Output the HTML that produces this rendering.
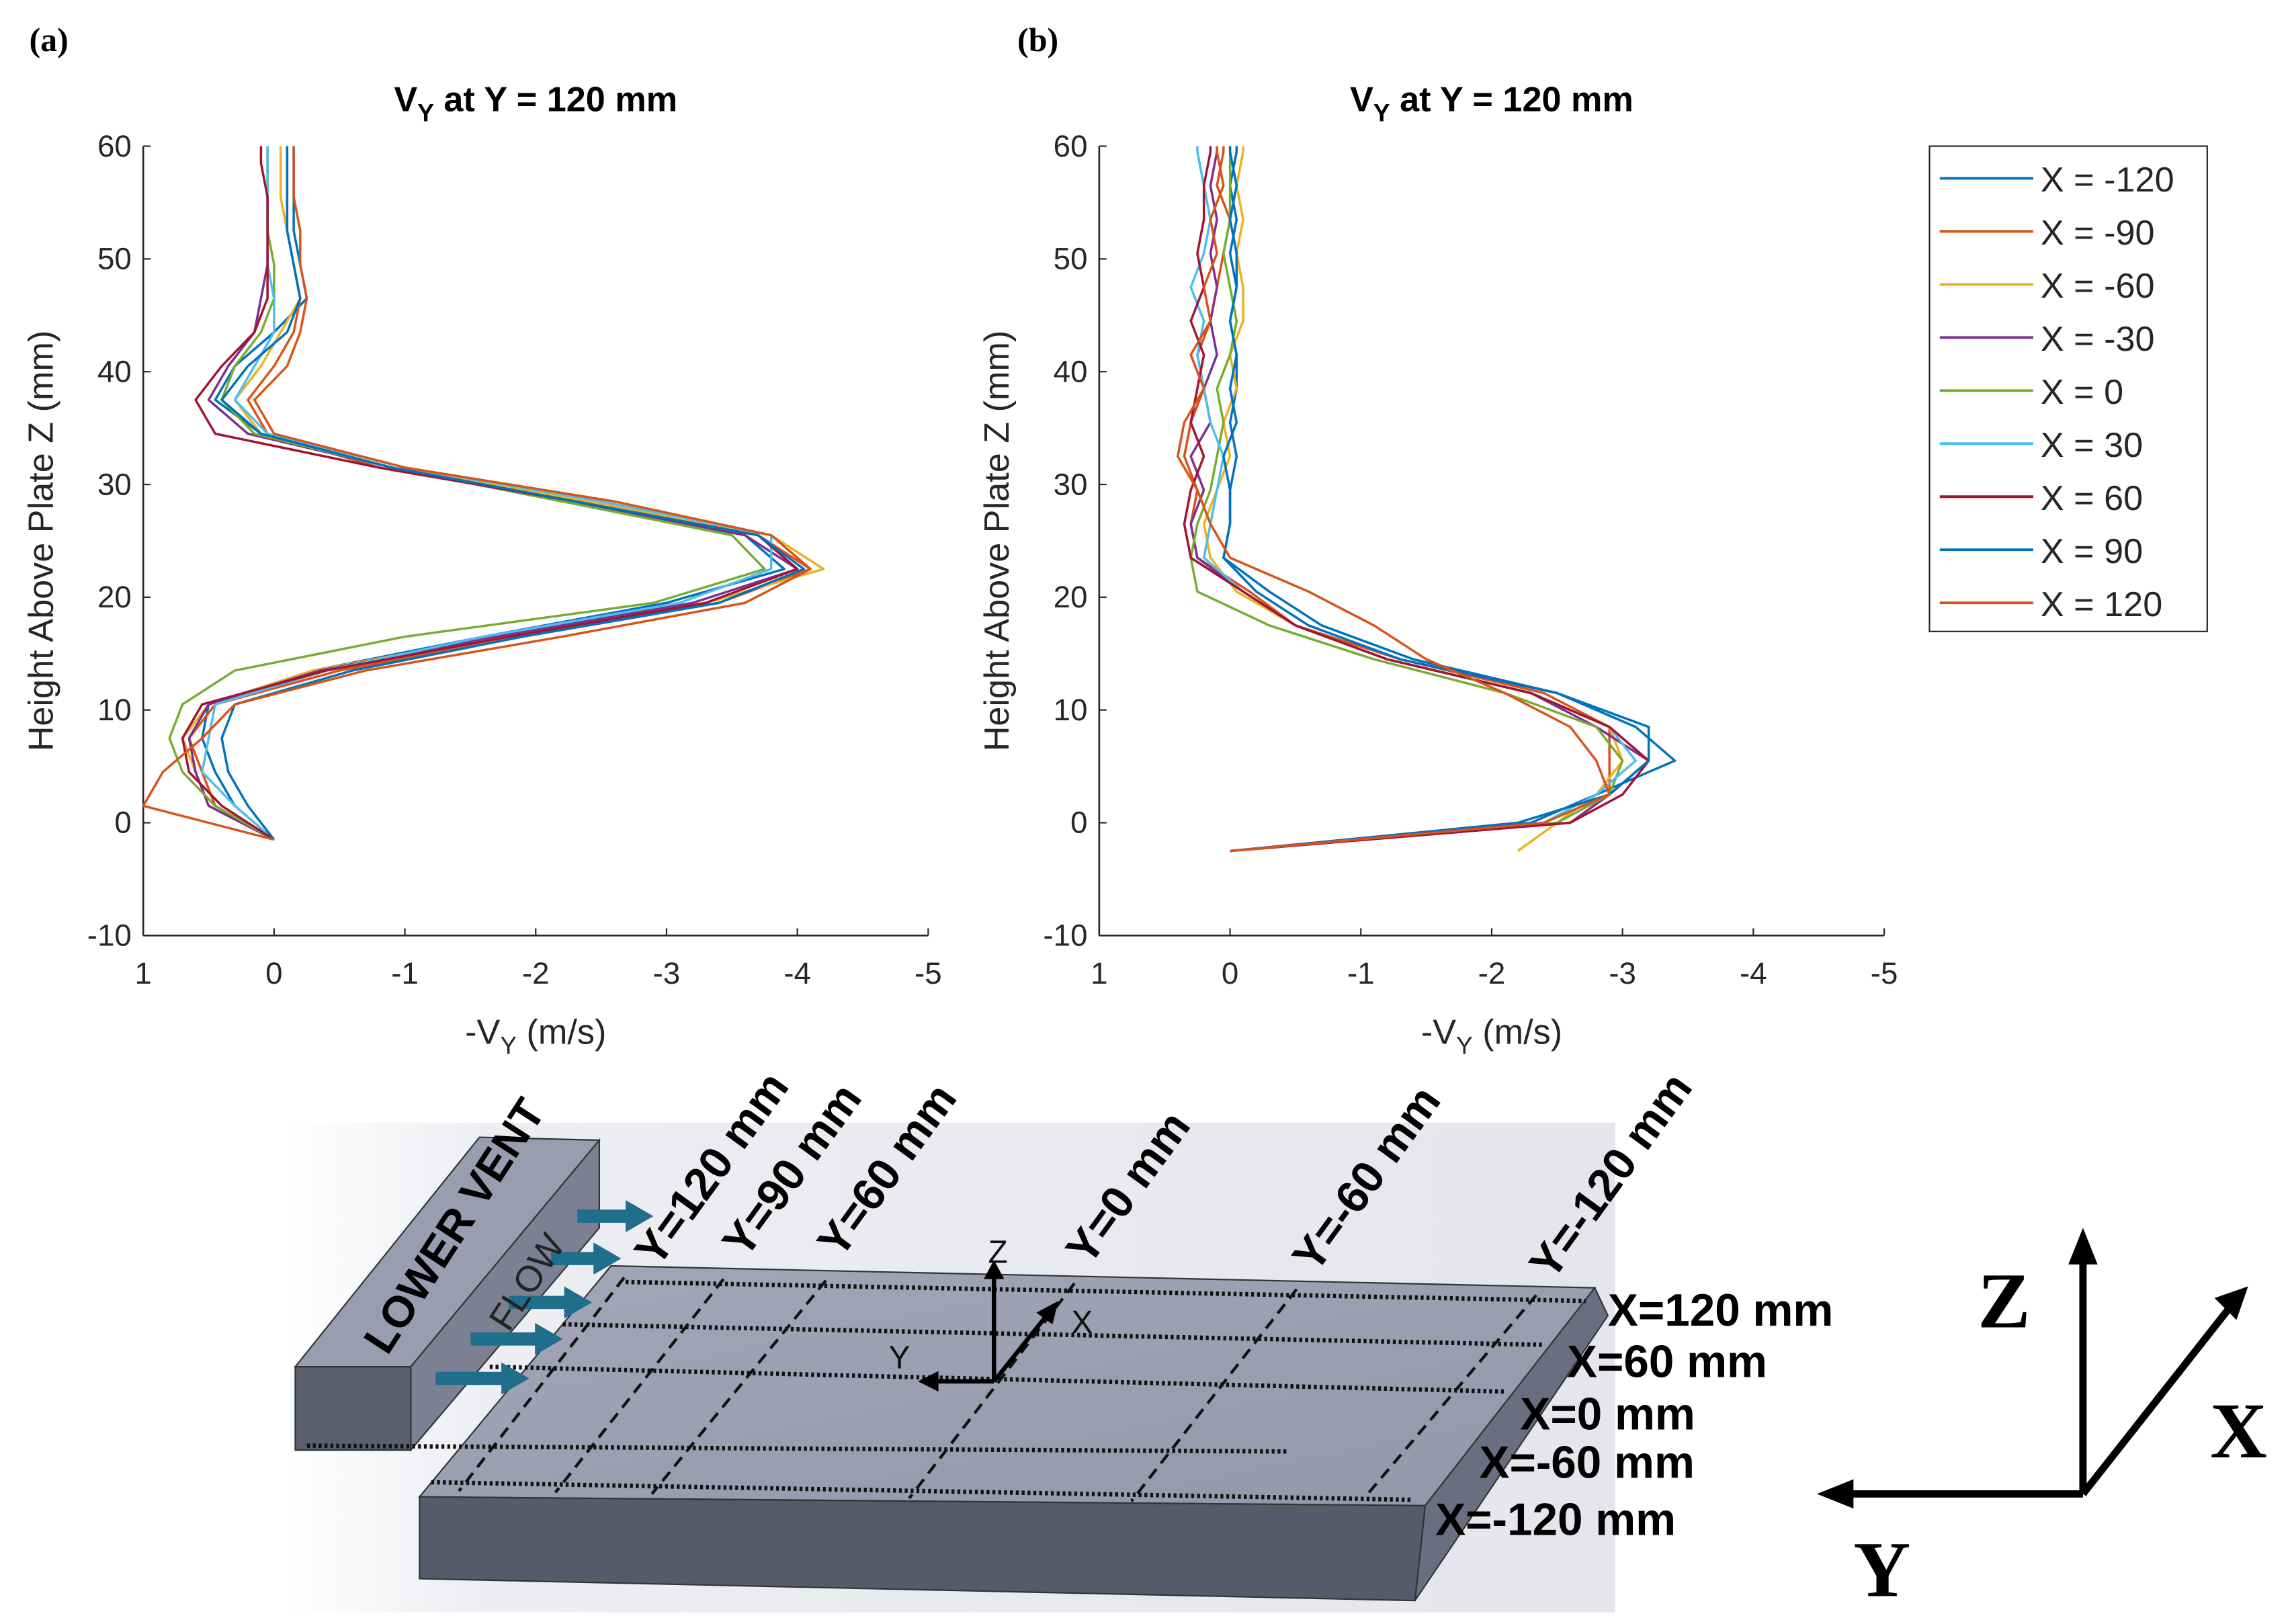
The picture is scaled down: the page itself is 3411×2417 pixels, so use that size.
<!DOCTYPE html>
<html><head><meta charset="utf-8"><style>
html,body{margin:0;padding:0;background:#fff}
svg{display:block}
text{font-family:"Liberation Sans",Arial,sans-serif}
.serif{font-family:"Liberation Serif","Times New Roman",serif}
</style></head><body>
<svg id="fig" width="3411" height="2417" viewBox="0 0 1568 1111" preserveAspectRatio="none" xmlns="http://www.w3.org/2000/svg">
<defs>
<linearGradient id="bg" x1="0" y1="0" x2="1" y2="0">
<stop offset="0" stop-color="#ffffff"/><stop offset="0.15" stop-color="#eceef2"/><stop offset="1" stop-color="#e4e6ec"/></linearGradient>
<linearGradient id="topg" x1="0" y1="0" x2="1" y2="1">
<stop offset="0" stop-color="#a3a6b8"/><stop offset="1" stop-color="#9497aa"/></linearGradient>
</defs>
<text x="20" y="35" class="serif" font-weight="bold" font-size="23">(a)</text>
<text x="696" y="35" class="serif" font-weight="bold" font-size="23">(b)</text>
<g id="chartA"></g>
<g id="chartB"></g>
<g id="legend"></g>

<g>
<rect x="195" y="768" width="910" height="335" fill="url(#bg)"/>
<polygon points="202,935 328,778 410,780 281,935" fill="#9a9db0" stroke="#333" stroke-width="1"/>
<polygon points="281,935 410,780 410,840 281,992" fill="#7d8092" stroke="#333" stroke-width="1"/>
<polygon points="202,935 281,935 281,992 202,992" fill="#5c5f70" stroke="#333" stroke-width="1"/>
<polygon points="418,866 1091,881 975,1030 287,1024" fill="url(#topg)" stroke="#333" stroke-width="1"/>
<polygon points="975,1030 1091,881 1100,900 968,1095" fill="#6b6e80" stroke="#333" stroke-width="1"/>
<polygon points="287,1024 975,1030 968,1095 287,1080" fill="#565a6a" stroke="#333" stroke-width="1"/>
<g stroke="#111" stroke-width="3" stroke-dasharray="2,2">
<line x1="428" y1="877" x2="1085" y2="890"/>
<line x1="385" y1="906" x2="1055" y2="920"/>
<line x1="335" y1="935" x2="1030" y2="952"/>
<line x1="210" y1="989" x2="880" y2="993"/>
<line x1="295" y1="1014" x2="966" y2="1026"/>
</g>
<g stroke="#111" stroke-width="2" stroke-dasharray="8,5">
<line x1="427" y1="874" x2="314" y2="1020"/>
<line x1="495" y1="875" x2="380" y2="1021"/>
<line x1="565" y1="876" x2="446" y2="1022"/>
<line x1="735" y1="878" x2="622" y2="1025"/>
<line x1="887" y1="882" x2="774" y2="1027"/>
<line x1="1051" y1="886" x2="934" y2="1024"/>
</g>
<g stroke="#1f6e8c" stroke-width="9">
<line x1="298" y1="943" x2="345" y2="943"/><polygon points="343,932 362,943 343,954" fill="#1f6e8c" stroke="none"/>
<line x1="322" y1="916" x2="368" y2="916"/><polygon points="366,905 385,916 366,927" fill="#1f6e8c" stroke="none"/>
<line x1="348" y1="891" x2="388" y2="891"/><polygon points="386,880 405,891 386,902" fill="#1f6e8c" stroke="none"/>
<line x1="377" y1="861" x2="408" y2="861"/><polygon points="406,850 425,861 406,872" fill="#1f6e8c" stroke="none"/>
<line x1="395" y1="832" x2="430" y2="832"/><polygon points="428,821 447,832 428,843" fill="#1f6e8c" stroke="none"/>
</g>
<text transform="translate(265,928) rotate(-57)" font-weight="bold" font-size="30">LOWER VENT</text>
<text transform="translate(348,912) rotate(-57)" font-size="25" fill="#222">FLOW</text>
<g font-weight="bold" font-size="31">
<text transform="translate(450,868) rotate(-54)">Y=120 mm</text>
<text transform="translate(510,862) rotate(-54)">Y=90 mm</text>
<text transform="translate(575,862) rotate(-54)">Y=60 mm</text>
<text transform="translate(745,867) rotate(-54)">Y=0 mm</text>
<text transform="translate(900,872) rotate(-54)">Y=-60 mm</text>
<text transform="translate(1062,877) rotate(-54)">Y=-120 mm</text>
</g>
<g font-weight="bold" font-size="31">
<text x="1100" y="907">X=120 mm</text>
<text x="1072" y="942">X=60 mm</text>
<text x="1040" y="978">X=0 mm</text>
<text x="1012" y="1011">X=-60 mm</text>
<text x="982" y="1050">X=-120 mm</text>
</g>
<g stroke="#000" stroke-width="3" fill="#000">
<line x1="680" y1="945" x2="680" y2="872"/><polygon points="673,875 680,862 687,875" stroke="none"/>
<line x1="680" y1="945" x2="716" y2="900"/><polygon points="709,898 724,890 720,906" stroke="none"/>
<line x1="680" y1="945" x2="640" y2="945"/><polygon points="642,938 628,945 642,952" stroke="none"/>
<text x="676" y="864" font-size="22" stroke="none" fill="#111">Z</text>
<text x="733" y="912" font-size="22" stroke="none" fill="#111">X</text>
<text x="608" y="936" font-size="22" stroke="none" fill="#111">Y</text>
</g>
<g stroke="#000" stroke-width="5" fill="#000">
<line x1="1425" y1="1022" x2="1425" y2="860"/><polygon points="1415,865 1425,840 1435,865" stroke="none"/>
<line x1="1425" y1="1022" x2="1525" y2="895"/><polygon points="1515,888 1538,880 1530,903" stroke="none"/>
<line x1="1425" y1="1022" x2="1262" y2="1022"/><polygon points="1268,1012 1243,1022 1268,1032" stroke="none"/>
<text x="1353" y="908" class="serif" font-weight="bold" font-size="54" stroke="none">Z</text>
<text x="1512" y="997" class="serif" font-weight="bold" font-size="54" stroke="none">X</text>
<text x="1268" y="1092" class="serif" font-weight="bold" font-size="54" stroke="none">Y</text>
</g>
</g>
</svg>
<script>
const seriesNames = ["X = -120","X = -90","X = -60","X = -30","X = 0","X = 30","X = 60","X = 90","X = 120"];
const colors = ["#0072BD","#D95319","#EDB120","#7E2F8E","#77AC30","#4DBEEE","#A2142F","#0072BD","#D95319"];
const xTicks = [1,0,-1,-2,-3,-4,-5];
const yTicks = [-10,0,10,20,30,40,50,60];
const zA = [-1.5,1.5,4.5,7.5,10.5,13.5,16.5,19.5,22.5,25.5,28.5,31.5,34.5,37.5,40.5,43.5,46.5,49.5,52.5,55.5,58.5,60];
const a1 = [0,0.3,0.45,0.55,0.5,-0.3,-1.6,-3.0,-3.9,-3.6,-2.2,-0.9,0.1,0.45,0.3,0.0,-0.25,-0.2,-0.15,-0.15,-0.15,-0.15];
const a2 = [0,0.45,0.55,0.65,0.45,-0.5,-1.9,-3.4,-4.1,-3.7,-2.3,-0.8,0.05,0.2,0.0,-0.15,-0.2,-0.15,-0.1,-0.1,-0.1,-0.1];
const a3 = [0,0.5,0.6,0.7,0.5,-0.3,-1.7,-3.3,-4.2,-3.8,-2.4,-0.9,0.1,0.3,0.1,-0.05,-0.2,-0.15,-0.1,-0.05,-0.05,-0.05];
const a4 = [0,0.5,0.6,0.65,0.5,-0.35,-1.7,-3.2,-4.0,-3.6,-2.3,-0.9,0.2,0.5,0.35,0.15,0.1,0.05,0.05,0.05,0.05,0.05];
const a5 = [0,0.45,0.7,0.8,0.7,0.3,-1.0,-2.9,-3.75,-3.5,-2.2,-0.9,0.15,0.4,0.3,0.1,0.0,0.0,0.05,0.05,0.05,0.05];
const a6 = [0,0.3,0.55,0.5,0.45,-0.4,-1.6,-3.1,-3.8,-3.8,-2.5,-1.0,0.05,0.3,0.15,0.0,0.0,0.05,0.05,0.05,0.05,0.05];
const a7 = [0,0.4,0.65,0.7,0.55,-0.4,-1.8,-3.3,-4.0,-3.7,-2.3,-0.8,0.45,0.6,0.4,0.15,0.05,0.05,0.05,0.05,0.1,0.1];
const a8 = [0,0.2,0.35,0.4,0.3,-0.6,-1.9,-3.4,-4.05,-3.7,-2.3,-0.9,0.1,0.4,0.2,-0.1,-0.2,-0.15,-0.1,-0.1,-0.1,-0.1];
const a9 = [0,1.0,0.85,0.55,0.3,-0.7,-2.2,-3.6,-4.1,-3.8,-2.6,-1.0,0.0,0.15,-0.1,-0.2,-0.25,-0.2,-0.2,-0.15,-0.15,-0.15];
const zB = [-2.5,0,2.5,5.5,8.5,11.5,14.5,17.5,20.5,23.5,26.5,29.5,32.5,35.5,38.5,41.5,44.5,47.5,50.5,53.5,56.5,59.5,60];
const b1 = [0,-2.3,-2.8,-3.4,-3.1,-2.5,-1.4,-0.7,-0.3,0.05,0.0,0.0,-0.05,0.0,-0.05,-0.05,0.0,-0.05,0.0,-0.05,0.0,-0.05,-0.05];
const b2 = [0,-2.6,-2.9,-2.9,-2.9,-2.4,-1.3,-0.5,-0.15,0.25,0.3,0.25,0.35,0.3,0.2,0.25,0.15,0.1,0.05,0.0,0.1,0.05,0.05];
const b3 = [-2.2,-2.5,-2.8,-3.0,-2.9,-2.3,-1.2,-0.5,-0.05,0.15,0.2,0.1,0.0,0.05,-0.05,0.0,-0.1,-0.1,-0.05,-0.1,-0.05,-0.1,-0.1];
const b4 = [0,-2.6,-2.9,-3.2,-2.8,-2.3,-1.2,-0.5,-0.1,0.25,0.3,0.2,0.3,0.15,0.2,0.1,0.15,0.1,0.15,0.1,0.15,0.1,0.1];
const b5 = [0,-2.5,-2.9,-3.0,-2.8,-2.1,-1.1,-0.3,0.25,0.3,0.25,0.15,0.1,0.05,0.1,0.0,-0.05,0.0,0.05,0.0,0.0,0.0,0.0];
const b6 = [0,-2.4,-2.8,-3.1,-2.9,-2.3,-1.2,-0.5,-0.1,0.2,0.15,0.1,0.05,0.15,0.2,0.25,0.2,0.3,0.2,0.15,0.2,0.25,0.25];
const b7 = [0,-2.6,-3.0,-3.2,-2.9,-2.3,-1.2,-0.5,-0.1,0.3,0.35,0.3,0.2,0.3,0.25,0.2,0.3,0.2,0.25,0.2,0.2,0.15,0.15];
const b8 = [0,-2.2,-2.9,-3.2,-3.2,-2.5,-1.3,-0.6,-0.2,0.05,0.0,0.0,0.05,-0.05,0.0,-0.05,0.0,-0.05,-0.05,0.0,-0.05,0.0,0.0];
const b9 = [0,-2.4,-2.9,-2.8,-2.6,-2.1,-1.5,-1.1,-0.6,0.0,0.15,0.25,0.4,0.35,0.2,0.3,0.15,0.2,0.1,0.15,0.05,0.1,0.1];
const seriesA = [a1,a2,a3,a4,a5,a6,a7,a8,a9];
const seriesB = [b1,b2,b3,b4,b5,b6,b7,b8,b9];

const NS = "http://www.w3.org/2000/svg";
function mk(tag, attrs, parent){const e=document.createElementNS(NS,tag);for(const k in attrs)e.setAttribute(k,attrs[k]);parent.appendChild(e);return e;}
const Y0=640, YPX=540/70, XPX=537/6;
function yScale(z){return Y0-(z+10)*YPX;}
function makeX(left){return v=>left+(1-v)*XPX;}

function drawChart(gid, left, zs, series, tag){
  const g=document.getElementById(gid);
  const xs=makeX(left);
  const right=xs(-5);
  const cx=(left+right)/2;
  const t=mk('text',{x:cx,y:76,'text-anchor':'middle','font-weight':'bold','font-size':'24'},g);
  
  
  t.innerHTML='V<tspan font-size="17" dy="7">Y</tspan><tspan dy="-7"> at Y = 120 mm</tspan>';
  const ax=mk('line',{x1:left,y1:yScale(-10),x2:right,y2:yScale(-10),stroke:'#262626','stroke-width':1.2},g);
  
  
  const ay=mk('line',{x1:left,y1:yScale(-10),x2:left,y2:yScale(60),stroke:'#262626','stroke-width':1.2},g);
  
  
  xTicks.forEach(v=>{
    const x=xs(v);
    mk('line',{x1:x,y1:Y0,x2:x,y2:Y0-5,stroke:'#262626','stroke-width':1},g);
    const l=mk('text',{x:x,y:Y0+33,'text-anchor':'middle','font-size':'21',fill:'#262626'},g);
    
    
    l.textContent=String(v);
  });
  yTicks.forEach(v=>{
    const y=yScale(v);
    mk('line',{x1:left,y1:y,x2:left+5,y2:y,stroke:'#262626','stroke-width':1},g);
    const l=mk('text',{x:left-8,y:y+7,'text-anchor':'end','font-size':'21',fill:'#262626'},g);
    
    
    l.textContent=String(v);
  });
  const xl=mk('text',{x:cx,y:714,'text-anchor':'middle','font-size':'24',fill:'#262626'},g);
  
  
  xl.innerHTML='-V<tspan font-size="17" dy="7">Y</tspan><tspan dy="-7"> (m/s)</tspan>';
  const yl=mk('text',{transform:`translate(${left-62},${yScale(25)}) rotate(-90)`,'text-anchor':'middle','font-size':'24',fill:'#262626'},g);
  
  
  yl.textContent='Height Above Plate Z (mm)';
  series.forEach((vals,i)=>{
    const pts=vals.map((v,j)=>xs(v).toFixed(2)+','+yScale(zs[j]).toFixed(2)).join(' ');
    const p=mk('polyline',{points:pts,fill:'none',stroke:colors[i],'stroke-width':1.6,'stroke-linejoin':'round'},g);
    
    
  });
}
drawChart('chartA',98,zA,seriesA,'a');
drawChart('chartB',752,zB,seriesB,'b');

(function(){
  const g=document.getElementById('legend');
  const box=mk('rect',{x:1320,y:100,width:190,height:332,fill:'#fff',stroke:'#262626','stroke-width':1},g);
  
  
  seriesNames.forEach((n,i)=>{
    const y=122+i*36.3;
    const ln=mk('line',{x1:1327,y1:y,x2:1391,y2:y,stroke:colors[i],'stroke-width':1.8},g);
    
    
    const t=mk('text',{x:1396,y:y+9,'font-size':'24',fill:'#262626'},g);
    
    
    t.textContent=n;
  });
})();
</script>
</body></html>
